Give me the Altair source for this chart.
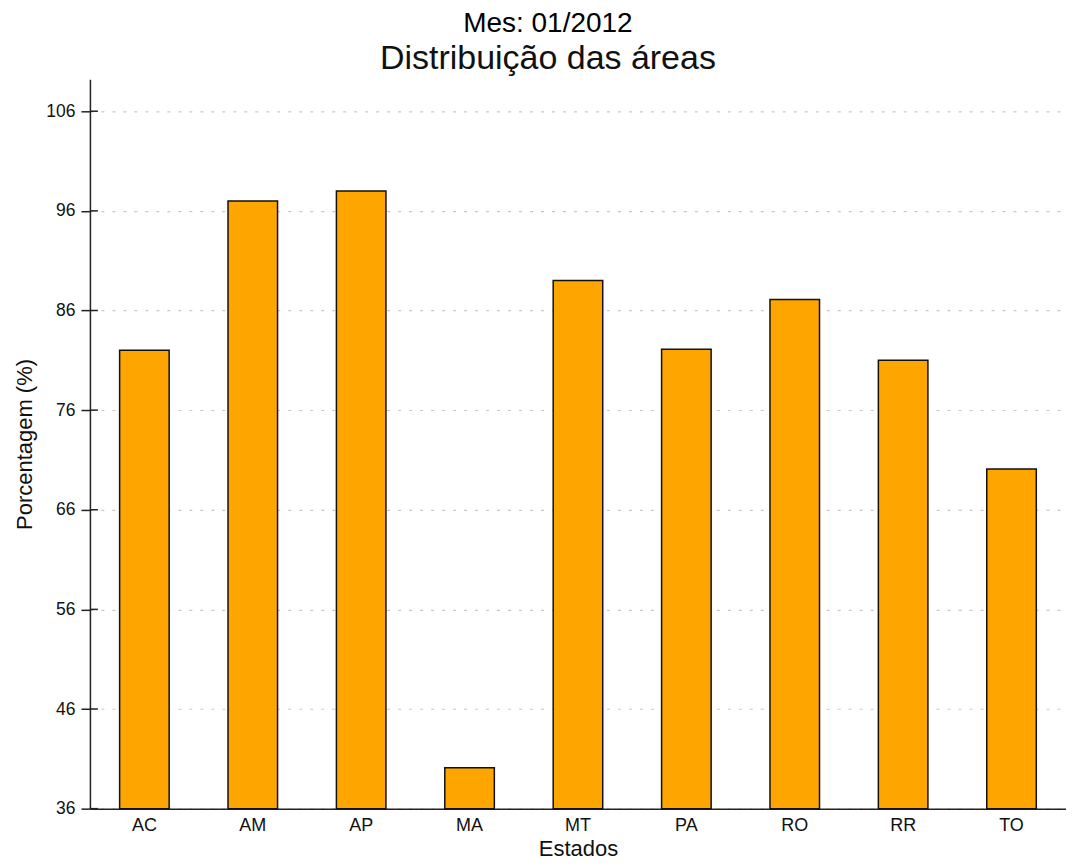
import altair as alt
import pandas as pd

estados = ["AC", "AM", "AP", "MA", "MT", "PA", "RO", "RR", "TO"]
porcentagem = [82.0, 97.0, 98.0, 40.1, 89.0, 82.1, 87.1, 81.0, 70.1]
tick_values = [36, 46, 56, 66, 76, 86, 96, 106]
y_domain = [36, 109.2]
baseline = 36

FONT = "Liberation Sans"

df = pd.DataFrame({"Estado": estados, "Pct": porcentagem})
ticks_df = pd.DataFrame({"v": tick_values})

y_scale = alt.Scale(domain=y_domain, nice=False, zero=False)

bars = alt.Chart(df).mark_bar(
    color="#FFA500", stroke="#111111", strokeWidth=1.5
).encode(
    x=alt.X("Estado:N", sort=estados, title="Estados",
            scale=alt.Scale(paddingInner=0.543, paddingOuter=0.274),
            axis=alt.Axis(labelAngle=0, ticks=False, labelPadding=8,
                          titlePadding=4, labelFontSize=18, titleFontSize=22,
                          domainColor="#222222", domainWidth=1.5,
                          labelColor="#111111", titleColor="#111111",
                          labelFont=FONT, titleFont=FONT, titleFontWeight="normal")),
    y=alt.Y("Pct:Q", title="Porcentagem (%)", scale=y_scale,
            axis=alt.Axis(values=tick_values, grid=True, gridDash=[3, 8],
                          gridColor="#c8c8c8", gridWidth=1.2,
                          tickSize=9, tickColor="#222222", tickWidth=1.5,
                          labelPadding=6, titlePadding=9,
                          labelFontSize=17.5, titleFontSize=22,
                          domainColor="#222222", domainWidth=1.5,
                          labelColor="#111111", titleColor="#111111",
                          labelFont=FONT, titleFont=FONT, titleFontWeight="normal")),
    y2=alt.datum(baseline)
)

inner_ticks = alt.Chart(ticks_df).mark_rule(color="#222222", strokeWidth=1.5).encode(
    x=alt.value(0), x2=alt.value(8),
    y=alt.Y("v:Q", scale=y_scale)
)

chart = alt.layer(bars, inner_ticks).properties(
    width=977, height=730,
    padding={"left": 5, "top": 2, "right": 0, "bottom": 0},
    title=alt.TitleParams(
        text="Mes: 01/2012", subtitle="Distribuição das áreas",
        fontSize=28, subtitleFontSize=34, font=FONT, subtitleFont=FONT,
        fontWeight="normal", color="#000000", subtitleColor="#111111",
        anchor="middle", frame="bounds", subtitlePadding=4, offset=3, dx=8
    )
).configure(
    background="white",
    view=alt.ViewConfig(stroke="transparent", strokeWidth=0)
)

chart.save("out.html", embed_options={"renderer": "svg", "actions": False})
